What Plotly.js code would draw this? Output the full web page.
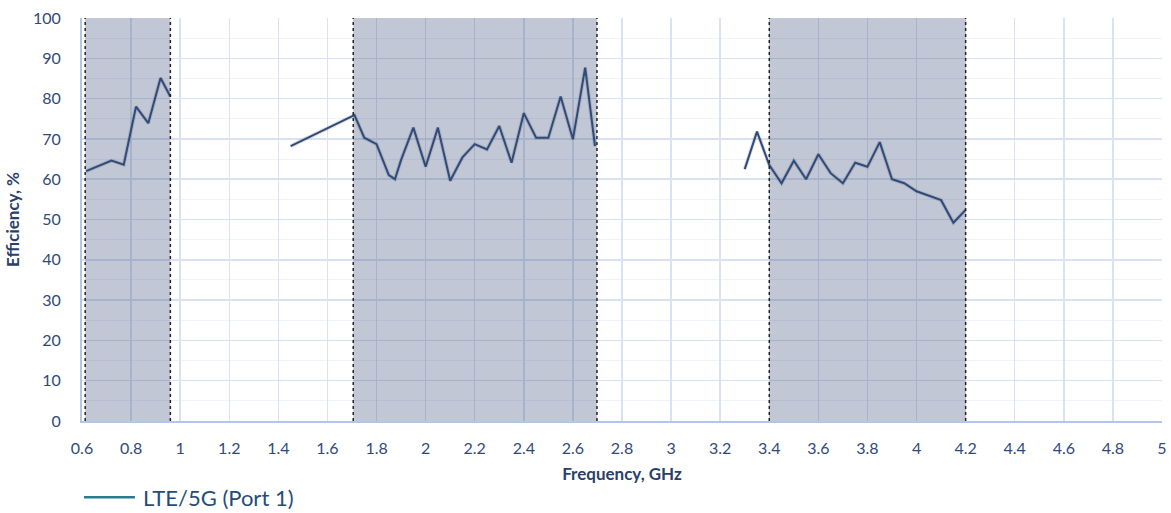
<!DOCTYPE html>
<html>
<head>
<meta charset="utf-8">
<script src="https://cdn.plot.ly/plotly-3.0.1.min.js"></script>
<style>
html,body{margin:0;padding:0;background:#fff;}
#chart{width:1171px;height:513px;}
</style>
</head>
<body>
<div id="chart"></div>
<script>
// Low band segment
const lowFreq = [0.617, 0.72, 0.77, 0.82, 0.87, 0.92, 0.96];
const lowEff  = [62, 64.6, 63.6, 78, 73.9, 85.1, 80.5];
// Mid band segment
const midFreq = [1.45, 1.71, 1.75, 1.8, 1.85, 1.875, 1.9, 1.95, 2.0, 2.05, 2.1, 2.15, 2.2, 2.25, 2.3, 2.35, 2.4, 2.45, 2.5, 2.55, 2.6, 2.65, 2.69];
const midEff  = [68.2, 75.9, 70.3, 68.7, 61.0, 60.0, 64.8, 72.8, 63.1, 72.8, 59.6, 65.4, 68.7, 67.4, 73.2, 64.1, 76.4, 70.3, 70.3, 80.5, 69.9, 87.7, 68.2];
// High band segment
const highFreq = [3.3, 3.35, 3.4, 3.45, 3.5, 3.55, 3.6, 3.65, 3.7, 3.75, 3.8, 3.85, 3.9, 3.95, 4.0, 4.05, 4.1, 4.15, 4.2];
const highEff  = [62.5, 71.8, 63.5, 59.0, 64.6, 60.0, 66.2, 61.5, 59.0, 64.1, 63.1, 69.2, 60.0, 59.0, 57.0, 55.9, 54.8, 49.2, 52.4];
// Shaded frequency bands (GHz)
const bandStart = [0.613, 1.705, 3.4];
const bandEnd   = [0.96, 2.698, 4.2];
const seriesName = 'LTE/5G (Port 1)';

const lineColor = '#2f4a7c';
const textColor = '#2f4a7a';
const legendColor = '#2c7a8c';
const segs = [[lowFreq, lowEff], [midFreq, midEff], [highFreq, highEff]];

const traces = [];
segs.forEach(s => {
  traces.push({x: s[0], y: s[1], type: 'scatter', mode: 'lines',
    line: {color: 'rgba(60,60,60,0.16)', width: 4}, showlegend: false, hoverinfo: 'skip'});
});
segs.forEach(s => {
  traces.push({x: s[0], y: s[1], type: 'scatter', mode: 'lines',
    line: {color: lineColor, width: 2}, showlegend: false});
});
traces.push({x: [null], y: [null], type: 'scatter', mode: 'lines', name: seriesName,
  line: {color: 'rgba(0,0,0,0)', width: 0}, showlegend: true});

const shapes = [];
bandStart.forEach((b, i) => {
  shapes.push({type: 'rect', xref: 'x', yref: 'y', x0: b, x1: bandEnd[i], y0: 0, y1: 100,
    fillcolor: 'rgba(44,62,110,0.29)', line: {width: 0}, layer: 'between'});
  [b, bandEnd[i]].forEach(v => {
    shapes.push({type: 'line', xref: 'x', yref: 'y', x0: v, x1: v, y0: 0, y1: 100,
      line: {color: '#222', width: 1.5, dash: 'dot'}, layer: 'above'});
  });
});
// legend swatch (longer than plotly's fixed swatch, as in the reference)
shapes.push({type: 'line', xref: 'paper', yref: 'paper', x0: 0.0019, x1: 0.049, y0: -0.1893, y1: -0.1893,
  line: {color: legendColor, width: 2.5}, layer: 'above'});

const layout = {
  width: 1171, height: 513,
  margin: {l: 82, r: 9, t: 18, b: 92, autoexpand: false},
  paper_bgcolor: '#fff', plot_bgcolor: '#fff',
  font: {family: 'Lato, "Open Sans", sans-serif', color: textColor, size: 15},
  showlegend: true,
  legend: {orientation: 'h', x: 0.0195, xanchor: 'left', y: -0.19, yanchor: 'middle',
    font: {size: 22, color: '#1f4e79'}, bgcolor: 'rgba(0,0,0,0)'},
  xaxis: {
    range: [0.6, 5], tick0: 0.6, dtick: 0.2, showgrid: true, gridcolor: '#d9e2f3', gridwidth: 1.5,
    zeroline: false, showline: true, linecolor: '#b4c6e7', linewidth: 2,
    ticks: '', ticklabelstandoff: 12, tickfont: {size: 16, color: textColor},
    title: {text: 'Frequency, GHz', font: {size: 17, color: '#2b3f6b', weight: 'bold'}, standoff: 12}
  },
  yaxis: {
    range: [0, 100], tick0: 0, dtick: 10, showgrid: true, gridcolor: '#d9e2f3', gridwidth: 1.5,
    minor: {dtick: 5, showgrid: true, gridcolor: '#eff3fa', gridwidth: 1},
    zeroline: false, showline: true, linecolor: '#b4c6e7', linewidth: 2,
    ticks: '', ticklabelstandoff: 16, tickfont: {size: 16, color: textColor},
    title: {text: 'Efficiency, %', font: {size: 17, color: '#2b3f6b', weight: 'bold'}, standoff: 9}
  },
  shapes: shapes
};

Plotly.newPlot('chart', traces, layout, {displayModeBar: false, staticPlot: true});
</script>
</body>
</html>
